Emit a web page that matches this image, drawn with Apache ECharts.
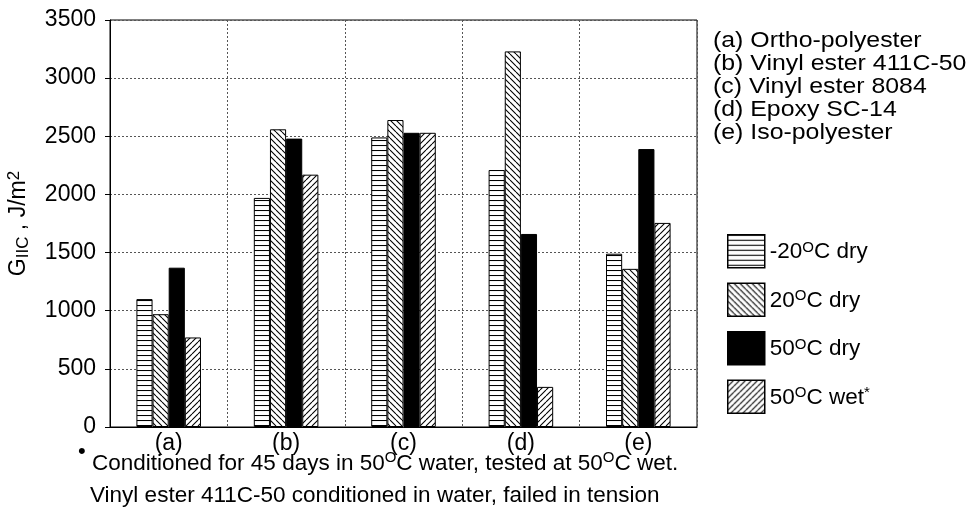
<!DOCTYPE html>
<html>
<head>
<meta charset="utf-8">
<script src="https://cdn.jsdelivr.net/npm/echarts@6/dist/echarts.min.js"></script>
<style>
  html, body { margin: 0; padding: 0; background: #fff; }
  #chart { width: 969px; height: 520px; }
</style>
</head>
<body>
<div id="chart"></div>
<script>
// data
const categories = ['(a)', '(b)', '(c)', '(d)', '(e)']
const materials = [
  '(a) Ortho-polyester',
  '(b) Vinyl ester 411C-50',
  '(c) Vinyl ester 8084',
  '(d) Epoxy SC-14',
  '(e) Iso-polyester',
]
const seriesNames = ['-20C dry', '20C dry', '50C dry', '50C wet']
const minus20Dry = [1100, 1970, 2490, 2210, 1490]
const plus20Dry = [970, 2560, 2640, 3230, 1360]
const plus50Dry = [1370, 2480, 2530, 1660, 2390]
const plus50Wet = [770, 2170, 2530, 345, 1755]
const yTicks = [0, 500, 1000, 1500, 2000, 2500, 3000, 3500]

const FONT = 'Liberation Sans'

// hatch fills
function makeHatch(kind) {
  const size = kind === 'h' ? 5 : 6
  const c = document.createElement('canvas')
  c.width = size
  c.height = size
  const ctx = c.getContext('2d')
  ctx.fillStyle = '#fff'
  ctx.fillRect(0, 0, size, size)
  ctx.strokeStyle = '#000'
  ctx.lineWidth = 1.1
  ctx.beginPath()
  if (kind === 'h') {
    ctx.moveTo(0, 0.5)
    ctx.lineTo(size, 0.5)
  } else {
    for (let k = -size; k <= size; k += size) {
      if (kind === 'back') {
        ctx.moveTo(k, 0)
        ctx.lineTo(k + size, size)
      } else {
        ctx.moveTo(k, size)
        ctx.lineTo(k + size, 0)
      }
    }
  }
  ctx.stroke()
  return { image: c, repeat: 'repeat' }
}

const fills = [makeHatch('h'), makeHatch('back'), '#000', makeHatch('fwd')]
const values = [minus20Dry, plus20Dry, plus50Dry, plus50Wet]

const supStyle = { fontSize: 15, fontFamily: FONT, color: '#000', verticalAlign: 'top', padding: [0, 0, 9, 0] }

const legendText = {
  '-20C dry': '-20{sup|O}C dry',
  '20C dry': '20{sup|O}C dry',
  '50C dry': '50{sup|O}C dry',
  '50C wet': '50{sup|O}C wet{sup|*}',
}

const chart = echarts.init(document.getElementById('chart'))

chart.setOption({
  animation: false,
  backgroundColor: '#fff',
  grid: {
    left: 110,
    top: 20,
    right: 272,
    bottom: 93,
    outerBoundsMode: 'none',
    show: true,
    borderColor: '#000',
    borderWidth: 1,
  },
  legend: {
    orient: 'vertical',
    left: 722,
    top: 229,
    itemWidth: 37,
    itemHeight: 33,
    itemGap: 14,
    icon: 'rect',
    itemStyle: { borderColor: '#000', borderWidth: 1.5 },
    formatter: (name) => legendText[name],
    textStyle: {
      fontFamily: FONT,
      fontSize: 22.5,
      color: '#000',
      padding: [2, 0, 0, 0],
      rich: { sup: supStyle },
    },
    data: seriesNames,
  },
  xAxis: {
    type: 'category',
    data: categories,
    axisLine: { lineStyle: { color: '#000', width: 1 } },
    axisTick: { show: false },
    splitLine: { show: true, lineStyle: { color: '#555', type: [2, 2], width: 1 } },
    axisLabel: { fontFamily: FONT, fontSize: 23, color: '#000', margin: 5 },
  },
  yAxis: {
    type: 'value',
    min: 0,
    max: 3500,
    interval: 500,
    axisLine: { show: true, lineStyle: { color: '#000' } },
    axisTick: { show: true, inside: false, length: 5, lineStyle: { color: '#000' } },
    splitLine: { show: true, lineStyle: { color: '#555', type: [2, 2], width: 1 } },
    axisLabel: {
      fontFamily: FONT,
      fontSize: 23,
      color: '#000',
      margin: 14,
      formatter: (v) => (yTicks.includes(v) ? String(v) : ''),
    },
    name: 'G{sub|IIC} , J/m{sup|2}',
    nameLocation: 'middle',
    nameRotate: 90,
    nameGap: 78,
    nameMoveOverlap: false,
    nameTextStyle: {
      fontFamily: FONT,
      fontSize: 23,
      color: '#000',
      rich: {
        sub: { fontSize: 17, fontFamily: FONT, color: '#000', verticalAlign: 'bottom', padding: [9, 0, 0, 0] },
        sup: { fontSize: 17, fontFamily: FONT, color: '#000', verticalAlign: 'top', padding: [0, 0, 9, 0] },
      },
    },
  },
  series: seriesNames.map((name, i) => ({
    name: name,
    type: 'bar',
    data: values[i],
    barGap: '0%',
    barCategoryGap: '45%',
    itemStyle: { color: fills[i], borderColor: '#000', borderWidth: 1 },
  })),
  graphic: [
    {
      type: 'text',
      x: 713,
      y: 29,
      scaleX: 1.13,
      style: {
        text: materials.join('\n'),
        font: '22px "Liberation Sans"',
        lineHeight: 23,
        fill: '#000',
      },
    },
    {
      type: 'text',
      left: 78,
      top: 441,
      style: {
        text: '•',
        font: '22px "Liberation Sans"',
        fill: '#000',
      },
    },
    {
      type: 'text',
      left: 92,
      top: 450,
      style: {
        text: 'Conditioned for 45 days in 50{sup|O}C water, tested at 50{sup|O}C wet.',
        font: '22.5px "Liberation Sans"',
        lineHeight: 28,
        fill: '#000',
        rich: { sup: supStyle },
      },
    },
    {
      type: 'text',
      left: 90,
      top: 482,
      style: {
        text: 'Vinyl ester 411C-50 conditioned in water, failed in tension',
        font: '22.5px "Liberation Sans"',
        lineHeight: 28,
        fill: '#000',
      },
    },
  ],
})
</script>
</body>
</html>
